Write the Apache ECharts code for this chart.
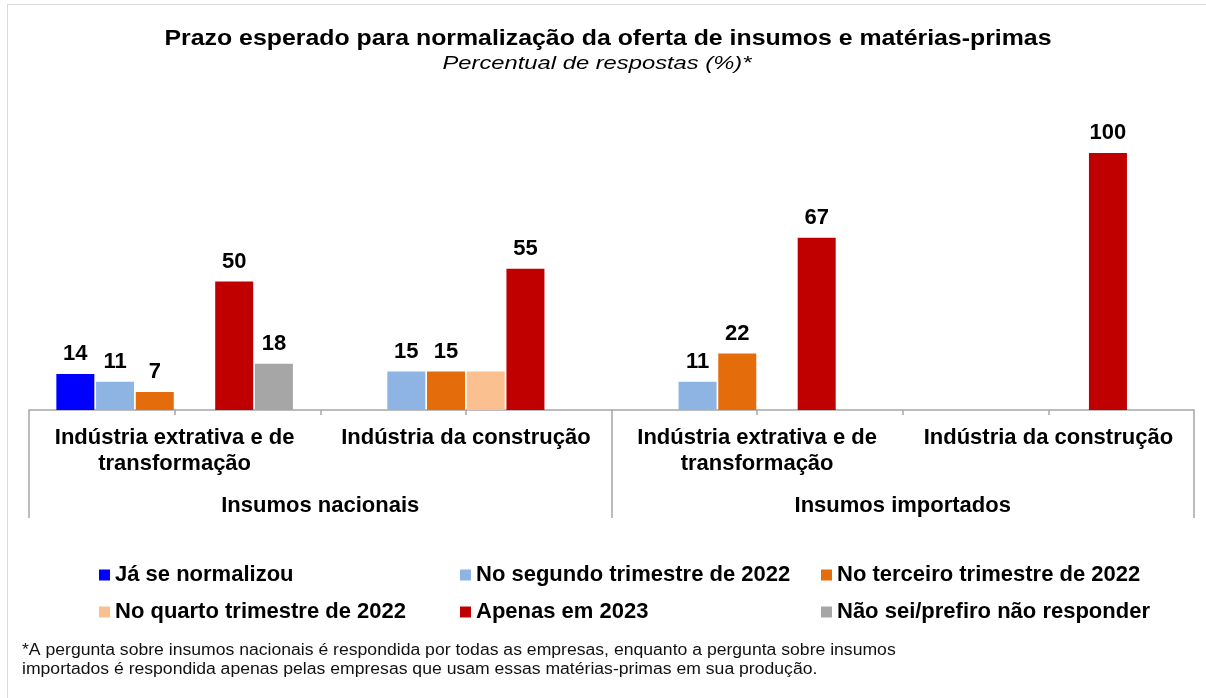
<!DOCTYPE html>
<html>
<head>
<meta charset="utf-8">
<script src="https://cdn.jsdelivr.net/npm/echarts@6/dist/echarts.min.js"></script>
<style>
  html, body { margin: 0; padding: 0; background: #fff; }
  #chart { width: 1206px; height: 698px; }
</style>
</head>
<body>
<div id="chart"></div>
<script>
const categories = [
  'Indústria extrativa e de\ntransformação',
  'Indústria da construção',
  'Indústria extrativa e de\ntransformação',
  'Indústria da construção'
]
const groups = ['Insumos nacionais', 'Insumos importados']
// eight sub-slots only used for the small boundary ticks
const tickSlots = ['', '', '', '', '', '', '', '']

const seriesNames = [
  'Já se normalizou',
  'No segundo trimestre de 2022',
  'No terceiro trimestre de 2022',
  'No quarto trimestre de 2022',
  'Apenas em 2023',
  'Não sei/prefiro não responder'
]
const jaNormalizou = [14, null, null, null]
const segundoTri = [11, 15, 11, null]
const terceiroTri = [7, 15, 22, null]
const quartoTri = [null, 15, null, null]
const apenas2023 = [50, 55, 67, 100]
const naoSei = [18, null, null, null]

const COLORS = ['#0000ff', '#8eb4e3', '#e46c0a', '#fac090', '#c00000', '#a6a6a6']
const seriesData = [jaNormalizou, segundoTri, terceiroTri, quartoTri, apenas2023, naoSei]

const FONT = '"Liberation Sans", Arial, sans-serif'
const AXIS_GREY = '#a6a6a6'

const chart = echarts.init(document.getElementById('chart'))

const series = seriesNames.map((name, i) => ({
  name,
  type: 'bar',
  xAxisIndex: 0,
  barWidth: 38,
  barGap: '4.5%',
  itemStyle: { color: COLORS[i] },
  label: {
    show: i !== 3, // the quarter bar carries no value label in the original
    position: 'top',
    distance: 9,
    color: '#000',
    fontFamily: FONT,
    fontWeight: 'bold',
    fontSize: 22
  },
  data: seriesData[i]
}))

function legendCol(names, left) {
  return {
    orient: 'vertical',
    left,
    top: 558,
    data: names,
    icon: 'rect',
    itemWidth: 11,
    itemHeight: 11,
    itemGap: 13,
    selectedMode: false,
    textStyle: { fontFamily: FONT, fontWeight: 'bold', fontSize: 22, lineHeight: 24, color: '#000' }
  }
}

const footnote = '*A pergunta sobre insumos nacionais é respondida por todas as empresas, enquanto a pergunta sobre insumos\n' +
  'importados é respondida apenas pelas empresas que usam essas matérias-primas em sua produção.'

chart.setOption({
  animation: false,
  textStyle: { fontFamily: FONT },
  graphic: [
    { type: 'rect', shape: { x: 7.5, y: 4.5, width: 1210, height: 710 }, style: { fill: 'none', stroke: '#d9d9d9', lineWidth: 1 }, silent: true },
    { type: 'text', x: 608, y: 39, scaleX: 1.13, style: { text: 'Prazo esperado para normalização da oferta de insumos e matérias-primas', font: 'bold 22px ' + FONT, fill: '#000', align: 'center', verticalAlign: 'middle' } },
    { type: 'text', x: 597, y: 64, scaleX: 1.32, style: { text: 'Percentual de respostas (%)*', font: 'italic 18px ' + FONT, fill: '#000', align: 'center', verticalAlign: 'middle' } },
    { type: 'text', x: 22, y: 641, scaleX: 1.1, style: { text: footnote, font: '16px ' + FONT, lineHeight: 19, fill: '#111', align: 'left', verticalAlign: 'top' } }
  ],
  legend: [
    legendCol([seriesNames[0], seriesNames[3]], 94),
    legendCol([seriesNames[1], seriesNames[4]], 455),
    legendCol([seriesNames[2], seriesNames[5]], 816)
  ],
  grid: { left: 29, right: 12, top: 153, bottom: 288, containLabel: false },
  xAxis: [
    {
      type: 'category',
      position: 'bottom',
      data: categories,
      axisLine: { show: true, lineStyle: { color: AXIS_GREY, width: 1.5 } },
      axisTick: { show: false },
      axisLabel: {
        interval: 0,
        margin: 15,
        color: '#000',
        fontFamily: FONT,
        fontWeight: 'bold',
        fontSize: 22,
        lineHeight: 26
      }
    },
    {
      type: 'category',
      position: 'bottom',
      data: tickSlots,
      axisLine: { show: false },
      axisTick: { show: true, length: 5, lineStyle: { color: AXIS_GREY, width: 1.5 } },
      axisLabel: { show: false }
    },
    {
      type: 'category',
      position: 'bottom',
      data: groups,
      axisLine: { show: false },
      axisTick: { show: true, length: 108, lineStyle: { color: AXIS_GREY, width: 1.5 } },
      axisLabel: {
        interval: 0,
        margin: 85,
        color: '#000',
        fontFamily: FONT,
        fontWeight: 'bold',
        fontSize: 22,
        lineHeight: 22
      }
    }
  ],
  yAxis: { type: 'value', min: 0, max: 100, show: false, splitLine: { show: false } },
  series
})
</script>
</body>
</html>
